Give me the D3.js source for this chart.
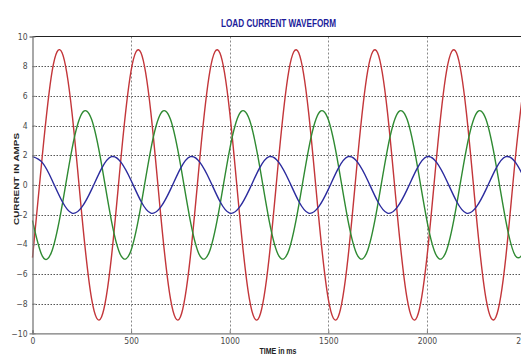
<!DOCTYPE html>
<html>
<head>
<meta charset="utf-8">
<script src="https://cdn.jsdelivr.net/npm/d3@7"></script>
<style>
  html, body { margin: 0; padding: 0; background: #fff; overflow: hidden; }
  svg { display: block; }
</style>
</head>
<body>
<script>
// ---- data ----
const title = "LOAD CURRENT WAVEFORM";
const xLabel = "TIME in ms";
const yLabel = "CURRENT IN AMPS";
const xTicks = [0, 500, 1000, 1500, 2000, 2500];
const yTicks = [-10, -8, -6, -4, -2, 0, 2, 4, 6, 8, 10];
const timeMs = [0, 50, 100, 150, 200, 250, 300, 350,
  400, 450, 500, 550, 600, 650, 700, 750,
  800, 850, 900, 950, 1000, 1050, 1100, 1150,
  1200, 1250, 1300, 1350, 1400, 1450, 1500, 1550,
  1600, 1650, 1700, 1750, 1800, 1850, 1900, 1950,
  2000, 2050, 2100, 2150, 2200, 2250, 2300, 2350,
  2400, 2450, 2500];
const redCurrent = [-4.9, 2.0, 7.7, 8.9, 4.9, -2.0, -7.7, -8.9,
  -4.9, 2.0, 7.7, 8.9, 4.9, -2.0, -7.7, -8.9,
  -4.9, 2.0, 7.7, 8.9, 4.9, -2.0, -7.7, -8.9,
  -4.9, 2.0, 7.7, 8.9, 4.9, -2.0, -7.7, -8.9,
  -4.9, 2.0, 7.7, 8.9, 4.9, -2.0, -7.7, -8.9,
  -4.9, 2.0, 7.7, 8.9, 4.9, -2.0, -7.7, -8.9,
  -4.9, 2.0, 7.7];
const greenCurrent = [-2.4, -4.8, -4.4, -1.4, 2.4, 4.8, 4.4, 1.4,
  -2.4, -4.8, -4.4, -1.4, 2.4, 4.8, 4.4, 1.4,
  -2.4, -4.8, -4.4, -1.4, 2.4, 4.8, 4.4, 1.4,
  -2.4, -4.8, -4.4, -1.4, 2.4, 4.8, 4.4, 1.4,
  -2.4, -4.8, -4.4, -1.4, 2.4, 4.8, 4.4, 1.4,
  -2.4, -4.8, -4.4, -1.4, 2.4, 4.8, 4.4, 1.4,
  -2.4, -4.8, -4.4];
const blueCurrent = [1.9, 1.5, 0.3, -1.1, -1.9, -1.5, -0.3, 1.1,
  1.9, 1.5, 0.3, -1.1, -1.9, -1.5, -0.3, 1.1,
  1.9, 1.5, 0.3, -1.1, -1.9, -1.5, -0.3, 1.1,
  1.9, 1.5, 0.3, -1.1, -1.9, -1.5, -0.3, 1.1,
  1.9, 1.5, 0.3, -1.1, -1.9, -1.5, -0.3, 1.1,
  1.9, 1.5, 0.3, -1.1, -1.9, -1.5, -0.3, 1.1,
  1.9, 1.5, 0.3];

// ---- layout ----
const W = 521, H = 356;
const svg = d3.select("body").append("svg").attr("width", W).attr("height", H);

const x = d3.scaleLinear().domain([0, 2500]).range([32.5, 525.5]);
const y = d3.scaleLinear().domain([-10, 10]).range([333.3, 36.5]);

// grid
const grid = svg.append("g");
grid.selectAll("line.h").data(yTicks.filter(d => d > -10 && d < 10)).join("line")
  .attr("x1", x(0)).attr("x2", x(2500))
  .attr("y1", d => Math.round(y(d)) + 0.5).attr("y2", d => Math.round(y(d)) + 0.5)
  .attr("stroke", "#555").attr("stroke-width", 1).attr("stroke-dasharray", "1.5,1.5");
grid.selectAll("line.v").data(xTicks.filter(d => d > 0)).join("line")
  .attr("x1", d => Math.round(x(d)) + 0.5).attr("x2", d => Math.round(x(d)) + 0.5)
  .attr("y1", y(10)).attr("y2", y(-10))
  .attr("stroke", "#888").attr("stroke-width", 1).attr("stroke-dasharray", "2,2");

// series
const line = d3.line().x((d, i) => x(timeMs[i])).y(d => y(d)).curve(d3.curveNatural);
const series = [
  { values: redCurrent, color: "#c3363a" },
  { values: greenCurrent, color: "#2f8a32" },
  { values: blueCurrent, color: "#2b2b9e" }
];
svg.append("g").selectAll("path").data(series).join("path")
  .attr("d", d => line(d.values))
  .attr("fill", "none").attr("stroke", d => d.color).attr("stroke-width", 1.4);

// frame
svg.append("line").attr("x1", x(0)).attr("x2", W).attr("y1", 36.5).attr("y2", 36.5)
  .attr("stroke", "#222").attr("stroke-width", 1.2);

// axes
const fontTick = "'Liberation Sans Narrow', 'DejaVu Sans Condensed', 'Liberation Sans', sans-serif";
const yAxis = svg.append("g").attr("transform", `translate(${x(0)},0)`)
  .call(d3.axisLeft(y).tickValues(yTicks).tickSize(3).tickPadding(2));
const xAxis = svg.append("g").attr("transform", `translate(0,${y(-10)})`)
  .call(d3.axisBottom(x).tickValues(xTicks).tickSize(-3).tickPadding(5).tickFormat(d3.format("d")));
[yAxis, xAxis].forEach(a => {
  a.select(".domain").attr("stroke", "#7a7a7a").attr("stroke-width", 1.3);
  a.selectAll(".tick line").attr("stroke", "#7a7a7a");
  a.selectAll(".tick text").attr("fill", "#4a4a4a").attr("font-size", 8.5)
    .attr("font-family", fontTick);
});
yAxis.selectAll(".tick line").attr("x2", 3);

// title
svg.append("text").attr("x", 278.5).attr("y", 27)
  .attr("text-anchor", "middle").attr("font-family", "'Liberation Sans', Arial, sans-serif")
  .attr("font-weight", "bold").attr("font-size", 10.5).attr("fill", "#1c1c9a")
  .attr("textLength", 115).attr("lengthAdjust", "spacingAndGlyphs")
  .text(title);

// y label
svg.append("text").attr("transform", "translate(19,179) rotate(-90)")
  .attr("text-anchor", "middle").attr("font-family", "'Liberation Sans', Arial, sans-serif")
  .attr("font-weight", "bold").attr("font-size", 8).attr("fill", "#222")
  .attr("textLength", 92).attr("lengthAdjust", "spacingAndGlyphs")
  .text(yLabel);

// x label
svg.append("text").attr("x", 278).attr("y", 354)
  .attr("text-anchor", "middle").attr("font-family", "'Liberation Sans', Arial, sans-serif")
  .attr("font-weight", "bold").attr("font-size", 8.5).attr("fill", "#222")
  .attr("textLength", 37).attr("lengthAdjust", "spacingAndGlyphs")
  .text(xLabel);
</script>
</body>
</html>
